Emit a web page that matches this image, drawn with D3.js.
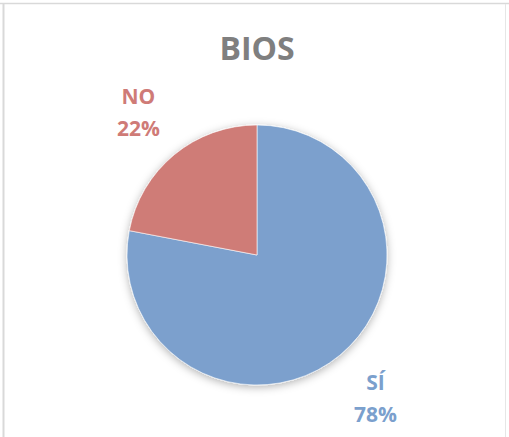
<!DOCTYPE html>
<html lang="es">
<head>
<meta charset="UTF-8">
<title>BIOS</title>
<script src="https://d3js.org/d3.v7.min.js"></script>
<style>
  html, body { margin: 0; padding: 0; background: #fff; }
  svg { display: block; }
</style>
</head>
<body>
<div id="chart"></div>
<script>
const width = 509
const height = 437
const title = "BIOS"
const categories = ["SÍ", "NO"]
const values = [78, 22]
const colors = ["#7ba0cd", "#cf7b77"]

const cx = 257, cy = 255, radius = 130
const font = "'Open Sans', 'Liberation Sans', sans-serif"

const svg = d3.select("#chart").append("svg")
    .attr("width", width)
    .attr("height", height)
    .attr("viewBox", [0, 0, width, height])

// soft shadow under the pie
const defs = svg.append("defs")
const f = defs.append("filter").attr("id", "shadow")
    .attr("x", "-20%").attr("y", "-20%").attr("width", "140%").attr("height", "140%")
f.append("feDropShadow")
    .attr("dx", 0).attr("dy", 2)
    .attr("stdDeviation", 4)
    .attr("flood-color", "#000")
    .attr("flood-opacity", 0.3)

// frame lines of the chart area
svg.append("line").attr("x1", 0).attr("x2", width).attr("y1", 3.5).attr("y2", 3.5)
    .attr("stroke", "#d9d9d9").attr("stroke-width", 1.5)
svg.append("line").attr("x1", 3.5).attr("x2", 3.5).attr("y1", 3).attr("y2", height)
    .attr("stroke", "#d9d9d9").attr("stroke-width", 2)
svg.append("line").attr("x1", 505.5).attr("x2", 505.5).attr("y1", 4).attr("y2", height)
    .attr("stroke", "#e6e6e6").attr("stroke-width", 1)

svg.append("text")
    .attr("x", cx)
    .attr("y", 60)
    .attr("text-anchor", "middle")
    .attr("font-family", font)
    .attr("font-weight", "bold")
    .attr("font-size", 32)
    .attr("fill", "#7f7f7f")
    .text(title)

const data = categories.map((c, i) => ({ name: c, value: values[i], color: colors[i] }))
const pie = d3.pie().value(d => d.value).sort(null)
const arcs = pie(data)
const arc = d3.arc().innerRadius(0).outerRadius(radius)
const labelArc = d3.arc().innerRadius(186).outerRadius(186)

const g = svg.append("g").attr("transform", `translate(${cx},${cy})`)

g.append("g").attr("filter", "url(#shadow)")
    .selectAll("path")
    .data(arcs)
    .enter().append("path")
    .attr("d", arc)
    .attr("fill", d => d.data.color)
    .attr("stroke", "#fff")
    .attr("stroke-width", 0.6)

const total = d3.sum(values)
const lab = g.selectAll("text.lbl")
    .data(arcs)
    .enter().append("text")
    .attr("class", "lbl")
    .attr("text-anchor", "middle")
    .attr("font-family", font)
    .attr("font-weight", "bold")
    .attr("font-size", 21)
    .attr("fill", d => d.data.color)
    .attr("transform", d => {
        const c = labelArc.centroid(d)
        return `translate(${c[0]},${c[1]})`
    })
lab.append("tspan").attr("x", 0).attr("y", -8).text(d => d.data.name)
lab.append("tspan").attr("x", 0).attr("y", 24)
    .text(d => Math.round(d.data.value / total * 100) + "%")
</script>
</body>
</html>
